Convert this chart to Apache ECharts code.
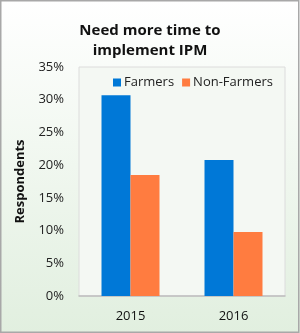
<!DOCTYPE html>
<html><head><meta charset="utf-8">
<script src="https://cdn.jsdelivr.net/npm/echarts@6/dist/echarts.min.js"></script>
<style>html,body{margin:0;padding:0;}#c{width:300px;height:333px;}</style>
</head><body><div id="c"></div>
<script>
const categories = ['2015', '2016'];
const farmers = [30.7, 20.8];
const nonFarmers = [18.5, 9.8];
const yTicks = [0, 5, 10, 15, 20, 25, 30, 35];

const chart = echarts.init(document.getElementById('c'), null, {renderer: 'canvas'});
const font = 'Open Sans';
chart.setOption({
  backgroundColor: new echarts.graphic.LinearGradient(0, 0, 0, 1, [
    {offset: 0, color: '#ffffff'}, {offset: 1, color: '#e1efdf'}
  ]),
  animation: false,
  title: {
    text: 'Need more time to\nimplement IPM',
    left: 'center', top: 16,
    textStyle: {fontFamily: font, fontSize: 15, fontWeight: 'bold', color: '#111', lineHeight: 20}
  },
  legend: {
    data: ['Farmers', 'Non-Farmers'],
    top: 71, left: 108,
    itemWidth: 8, itemHeight: 8, itemGap: 8,
    icon: 'rect',
    textStyle: {fontFamily: font, fontSize: 13, color: '#222', padding: [0, 0, 0, -2]}
  },
  grid: {
    left: 79, right: 15, top: 67, bottom: 37,
    show: true, backgroundColor: '#f4f8f3', borderColor: '#dcdcdc', borderWidth: 1
  },
  xAxis: {
    type: 'category', data: categories,
    axisTick: {show: false},
    axisLine: {lineStyle: {color: '#bdbdbd', width: 1.5}},
    axisLabel: {fontFamily: font, fontSize: 13, color: '#111', margin: 14}
  },
  yAxis: {
    type: 'value', min: 0, max: 35, interval: 5,
    name: 'Respondents', nameLocation: 'middle', nameGap: 52,
    nameTextStyle: {fontFamily: font, fontSize: 13, fontWeight: 'bold', color: '#111'},
    splitLine: {show: false},
    axisLine: {show: false}, axisTick: {show: false},
    axisLabel: {fontFamily: font, fontSize: 13, color: '#222', margin: 15,
      formatter: v => yTicks.includes(v) ? v + '%' : ''}
  },
  series: [
    {name: 'Farmers', type: 'bar', data: farmers, barWidth: 29, barGap: 0,
     itemStyle: {color: '#0078d7'}},
    {name: 'Non-Farmers', type: 'bar', data: nonFarmers, barWidth: 29,
     itemStyle: {color: '#ff7c40'}}
  ],
  graphic: [{
    type: 'rect', shape: {x: 0.75, y: 0.75, width: 298, height: 331.5},
    style: {fill: 'none', stroke: '#a8a8a8', lineWidth: 1.5}, silent: true
  }]
});
</script></body></html>
